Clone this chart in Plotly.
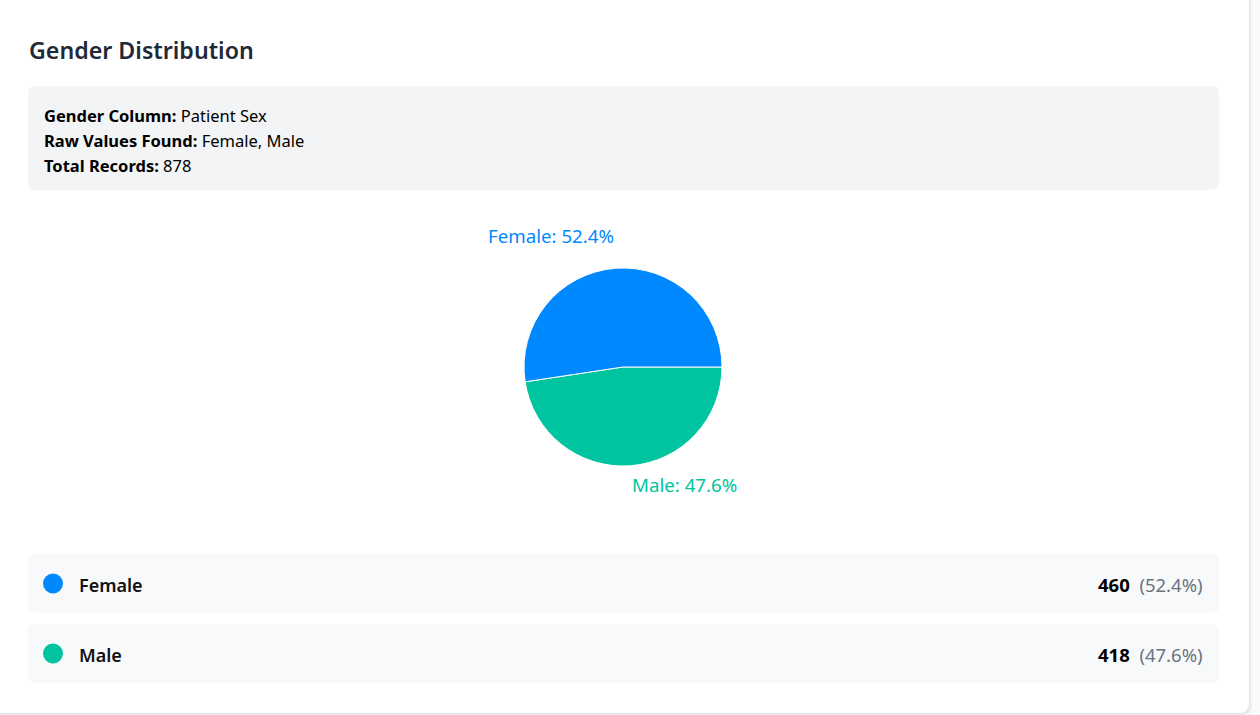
import plotly.graph_objects as go
import math

# ---------------- data ----------------
title_text = "Gender Distribution"
info_keys = ["Gender Column:", "Raw Values Found:", "Total Records:"]
info_values = ["Patient Sex", "Female, Male", "878"]
labels = ["Female", "Male"]
counts = [460, 418]
colors = ["#0088FE", "#00C49F"]

W, H = 1260, 715
FONT = "Noto Sans"
total = sum(counts)
pcts = [c / total * 100 for c in counts]


def rrect(x0, y0, x1, y1, r):
    return (f"M {x0+r},{y0} L {x1-r},{y0} Q {x1},{y0} {x1},{y0+r} "
            f"L {x1},{y1-r} Q {x1},{y1} {x1-r},{y1} L {x0+r},{y1} "
            f"Q {x0},{y1} {x0},{y1-r} L {x0},{y0+r} Q {x0},{y0} {x0+r},{y0} Z")


shapes = []
# card shadow + card
for i, col in enumerate(["#f2f2f2", "#ececec", "#e4e4e4"]):
    d = 3 - i
    shapes.append(dict(type="path", path=rrect(-20, -20, 1249 + d, 713 + d, 10),
                       xref="x", yref="y", fillcolor=col, line=dict(width=0), layer="below"))
shapes.append(dict(type="path", path=rrect(-20, -20, 1249, 713, 10),
                   xref="x", yref="y", fillcolor="#ffffff", line=dict(width=0), layer="below"))
# info box
shapes.append(dict(type="path", path=rrect(28, 86, 1219, 190, 8),
                   xref="x", yref="y", fillcolor="#f3f4f6", line=dict(width=0), layer="below"))

annotations = []
annotations.append(dict(x=26.5, y=50, xref="x", yref="y", xanchor="left", yanchor="middle",
                        text=title_text, showarrow=False,
                        font=dict(family=FONT, size=23.2, color="#1f2937", weight=600)))
for i, (k, v) in enumerate(zip(info_keys, info_values)):
    annotations.append(dict(x=41.5, y=115 + 25 * i, xref="x", yref="y", xanchor="left", yanchor="middle",
                            text=f"<b>{k}</b> {v}", showarrow=False,
                            font=dict(family=FONT, size=16.5, color="#000000")))

# pie geometry
cx, cy, R = 623, 367, 99
label_r = 124.5
start = 0.0
for lab, p, col in zip(labels, pcts, colors):
    sweep = p / 100 * 360
    mid = math.radians(start + sweep / 2)
    side = 1 if math.cos(mid) >= 0 else -1
    lx = cx + label_r * math.cos(mid) - side * 2.5
    ly = cy - label_r * math.sin(mid)
    annotations.append(dict(x=lx, y=ly - 7, xref="x", yref="y",
                            xanchor="left" if side > 0 else "right", yanchor="middle",
                            text=f"{lab}: {p:.1f}%", showarrow=False,
                            font=dict(family=FONT, size=18.7, color=col)))
    start += sweep

# legend rows
row_top = 554
row_h = 59
row_gap = 11
for i, (lab, c, p, col) in enumerate(zip(labels, counts, pcts, colors)):
    y0 = row_top + i * (row_h + row_gap)
    yc = y0 + row_h / 2
    shapes.append(dict(type="path", path=rrect(28, y0, 1219, y0 + row_h, 8),
                       xref="x", yref="y", fillcolor="#f8f9fa", line=dict(width=0), layer="below"))
    shapes.append(dict(type="circle", x0=43, x1=63, y0=yc - 10, y1=yc + 10,
                       xref="x", yref="y", fillcolor=col, line=dict(width=0)))
    annotations.append(dict(x=76.5, y=yc + 1, xref="x", yref="y", xanchor="left", yanchor="middle",
                            text=lab, showarrow=False,
                            font=dict(family=FONT, size=18, color="#111111", weight=600)))
    annotations.append(dict(x=1204.5, y=yc + 1, xref="x", yref="y", xanchor="right", yanchor="middle",
                            text=f"<b>{c}</b>  <span style='color:#6b7280'>({p:.1f}%)</span>",
                            showarrow=False,
                            font=dict(family=FONT, size=18.5, color="#000000")))

fig = go.Figure()
# counterclockwise from 3 o'clock: plotly places the first listed slice ending at the
# rotation angle, so feed the slices in reverse order with clockwise direction
fig.add_trace(go.Pie(
    values=counts[::-1], labels=labels[::-1], sort=False, direction="clockwise", rotation=90,
    marker=dict(colors=colors[::-1], line=dict(color="#ffffff", width=1)),
    textinfo="none", showlegend=False, hoverinfo="label+value+percent",
    domain=dict(x=[(cx - R) / W, (cx + R) / W], y=[1 - (cy + R) / H, 1 - (cy - R) / H]),
))
fig.update_layout(
    width=W, height=H, margin=dict(l=0, r=0, t=0, b=0),
    paper_bgcolor="#fafafa", plot_bgcolor="rgba(0,0,0,0)",
    xaxis=dict(range=[0, W], visible=False, fixedrange=True),
    yaxis=dict(range=[H, 0], visible=False, fixedrange=True),
    shapes=shapes, annotations=annotations, showlegend=False,
)
fig.write_html("out.html", config={"displayModeBar": False})
